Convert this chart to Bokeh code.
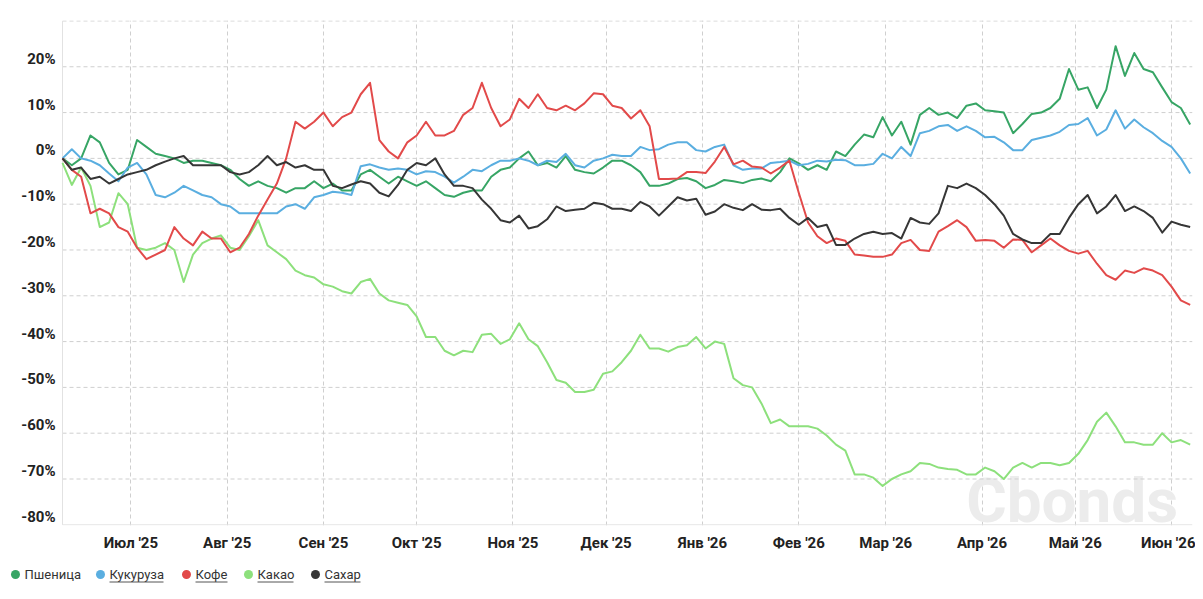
import pandas as pd
from bokeh.plotting import figure
from bokeh.models import Range1d, FixedTicker, Label
from bokeh.layouts import column
from bokeh.embed import file_html
from bokeh.resources import INLINE
from bokeh.core.properties import value

# one reading every 3 days, 9 Jun 2025 .. 7 Jun 2026, change in %
dates = pd.date_range("2025-06-09", periods=122, freq="3D")

wheat = [0, -1.5, 0, 5, 3.5, -1, -3.5, -2.5, 4, 2.5, 1,
         0.5, 0, -1, -0.5, -0.5, -1, -1.5, -2.5, -4.5, -6,
         -5, -6, -6.5, -7.5, -6.5, -6.5, -5, -6.5, -5.5, -7,
         -7, -3.5, -2.5, -4, -5.5, -4, -5, -6, -5, -6.5,
         -8, -8.4, -7.5, -7, -7, -4, -2.5, -2, 0, 1.5,
         -1.5, -1, -2, 0.5, -2.5, -3, -3.3, -2, -0.5, -0.5,
         -1.5, -3, -6, -6, -5.5, -4.5, -4.3, -5, -6.5, -5.8,
         -4.7, -5, -5.4, -4.7, -4.4, -5, -3, 0, -1.1, -2.5,
         -1.5, -2.5, 1.5, 0.5, 3, 5.2, 4.6, 9, 5, 8,
         3, 9.5, 11, 9.5, 10, 8.8, 11.5, 12, 10.5, 10.3,
         10, 5.5, 7.5, 9.7, 10, 11, 13, 19.5, 15, 15.5,
         11, 15, 24.5, 18, 23, 19.5, 18.8, 15.5, 12.3, 11, 7.4]

corn = [0, 2, 0, -0.5, -1.5, -3.3, -5, -2, -1, -3.5, -8,
        -8.5, -7.5, -6, -7, -8, -8.5, -10, -10.5, -12, -12,
        -12, -12, -12, -10.5, -10, -11, -8.5, -8, -7.3, -7.5,
        -8, -1.7, -1.3, -2, -2.5, -2.2, -2.5, -3.5, -2.8, -3,
        -4, -5.3, -4, -2.5, -2.8, -1.5, -0.5, -0.5, 0, -0.5,
        -1.5, -0.5, -0.8, 1, -1.5, -2, -0.5, 0, 0.8, 0.5,
        0.5, 2.5, 1.8, 2, 3, 3.5, 3.5, 1.8, 1.5, 2.5,
        3, -1.5, -2.5, -2.2, -2.2, -1, -0.8, -0.5, -1.5, -1.2,
        -0.5, -0.7, -0.3, -0.4, -1.5, -1.5, -1.2, 1, 0, 2.5,
        0.5, 5.5, 6, 7, 7.3, 6, 7, 6, 4.6, 4.7,
        3.5, 1.8, 1.8, 4, 4.5, 5, 5.8, 7.3, 7.5, 8.8,
        5, 6.3, 10.5, 6.5, 8.5, 6.8, 5.5, 3.8, 2.5, 0, -3.3]

coffee = [0, -2.5, -4, -12, -11, -12, -15, -16, -19.5, -22, -21,
          -20, -15, -17.5, -19, -16, -17.5, -17.5, -20.5, -19.5, -16.5,
          -12.5, -9, -5.5, 0, 8, 6.5, 8, 10, 7, 9,
          10, 14, 16.5, 4, 1.5, 0, 3.5, 5, 8, 5,
          5, 6, 9.5, 11, 16.5, 11, 7, 8.5, 13, 11,
          14, 11, 10.5, 11.5, 10.5, 12, 14.2, 14, 11.5, 11,
          8.7, 10.5, 7, -4.5, -4.5, -4.4, -3, -3, -3.2, -0.7,
          2.5, -1.3, -0.5, -1.8, -2, -3.3, -2, -0.5, -7.5, -14,
          -17, -18.5, -17.5, -18, -21, -21.2, -21.5, -21.5, -21, -18.5,
          -17.8, -20, -20.2, -16, -14.8, -13.5, -15, -18, -17.8, -18,
          -19.5, -17.7, -17.8, -20.5, -19, -17.5, -19, -20.2, -20.8, -20.2,
          -23, -25.5, -26.5, -24.5, -25, -24, -24.5, -25.5, -28, -31, -32]

cocoa = [-1, -5.8, -2, -6, -15, -14, -7.6, -10, -19.5, -20, -19.5,
         -18.5, -20, -27, -21, -18.5, -17.5, -16.8, -19.5, -20, -17,
         -13.5, -19, -20.5, -22, -24.5, -25.5, -26, -27.5, -28, -29,
         -29.5, -27, -26.3, -29.5, -31, -31.5, -32, -34.5, -39, -39,
         -42, -43, -42, -42.3, -38.5, -38.3, -40.5, -39.5, -36, -39.5,
         -41, -44.5, -48.4, -49, -51, -51, -50.5, -47, -46.5, -44.5,
         -42, -38.5, -41.5, -41.5, -42.2, -41.2, -40.8, -39, -41.5, -40,
         -40.5, -48, -49.5, -50, -53.5, -57.8, -57, -58.5, -58.5, -58.5,
         -59, -60.5, -62.5, -63.8, -69, -69, -69.7, -71.5, -70, -69,
         -68.3, -66.5, -66.7, -67.5, -67.8, -68, -69, -69, -67.5, -68.3,
         -70, -67.5, -66.5, -67.5, -66.5, -66.5, -67, -66.5, -64.5, -61.5,
         -57.5, -55.5, -58.5, -62, -62, -62.5, -62.5, -60, -62, -61.5, -62.5]

sugar = [0, -2.5, -2, -4.5, -4, -5.5, -4.5, -3.5, -3, -2.5, -1.5,
         -0.7, 0, 0.5, -1.5, -1.5, -1.5, -1.5, -3, -3.5, -3,
         -1.5, 0.5, -1.5, -0.8, -2, -1.5, -2.5, -2.5, -6, -6.5,
         -5.7, -5, -5.5, -7.5, -8.3, -5.8, -2.5, -1, -1.5, 0,
         -3.5, -6, -6, -6.5, -9, -11, -13.5, -14, -12.5, -15.3,
         -14.8, -13.3, -10.5, -11.5, -11.2, -11, -9.7, -10, -11, -11,
         -11.5, -9.5, -10.5, -12.5, -10.5, -8.5, -9.2, -8.8, -12.3, -11.6,
         -10, -10.8, -11.3, -10, -11.2, -11.3, -11, -13, -14.5, -13,
         -15, -14.5, -18.9, -18.9, -17.5, -16.5, -16, -16.5, -16.3, -17.5,
         -13, -14, -14.3, -12, -6, -6.5, -5.5, -6.5, -8, -10,
         -12.5, -16.5, -17.7, -18.5, -18.5, -16.5, -16.5, -13, -10, -8,
         -12, -10.5, -8, -11.5, -10.5, -11.5, -13, -16.2, -13.8, -14.5, -15]

names = ["Пшеница", "Кукуруза", "Кофе", "Какао", "Сахар"]
colors = ["#37a565", "#5aaee0", "#e24a4a", "#8de07c", "#363636"]
series = [wheat, corn, coffee, cocoa, sugar]

month_starts = pd.date_range("2025-07-01", periods=12, freq="MS")
month_labels = ["Июл '25", "Авг '25", "Сен '25", "Окт '25", "Ноя '25", "Дек '25",
                "Янв '26", "Фев '26", "Мар '26", "Апр '26", "Май '26", "Июн '26"]
y_ticks = list(range(-80, 31, 10))
y_labels = ["%d%%" % v for v in y_ticks[:-1]]

month_ms = [t.timestamp() * 1000 for t in month_starts]
x_end = pd.Timestamp("2026-06-07 18:00")
# frame starts at the page edge; the y labels sit left of the data start
x_start = dates[0] - pd.Timedelta(days=19.96)

p = figure(width=1195, height=563, x_axis_type="datetime",
           x_range=Range1d(x_start, x_end), y_range=Range1d(-80.15, 30.1),
           y_axis_location=None,
           output_backend="svg", toolbar_location=None,
           min_border_left=0, min_border_right=3, min_border_top=20, min_border_bottom=38)
p.outline_line_color = None
p.ygrid.visible = False

wm = Label(x=pd.Timestamp("2026-04-30"), y=-74.6, text="Cbonds", text_font="Roboto",
           text_font_size="62px", text_font_style="bold", text_color="#ececec",
           text_align="center", text_baseline="alphabetic", level="underlay")
p.add_layout(wm)

p.xaxis.ticker = FixedTicker(ticks=month_ms)
p.xaxis.major_label_overrides = dict(zip(month_ms, month_labels))
p.xaxis.axis_line_color = None
p.xaxis.major_tick_line_color = None
p.xaxis.minor_tick_line_color = None
p.xaxis.major_label_text_font = "Roboto"
p.xaxis.major_label_text_font_style = "bold"
p.xaxis.major_label_text_font_size = "15px"
p.xaxis.major_label_text_color = "#222222"
p.xaxis.major_label_standoff = 2

p.xgrid.grid_line_color = "#cfcfcf"
p.xgrid.grid_line_dash = "4 3"

# horizontal grid, left and bottom borders start where the data starts
n = len(y_ticks)
p.segment([dates[0]] * (n - 1), y_ticks[1:], [x_end] * (n - 1), y_ticks[1:],
          line_color="#cfcfcf", line_dash="4 3", line_width=1)
p.segment([dates[0], dates[0]], [-80, -80], [x_end, dates[0]], [-80, 30],
          line_color="#e2e2e2", line_width=1)

p.text([dates[0] - pd.Timedelta(hours=54)] * (n - 1), y_ticks[:-1], text=y_labels,
       text_font=value("Roboto"), text_font_style="bold", text_font_size="15px",
       text_color="#222222", text_align="right", text_baseline="bottom", y_offset=1)

for i in [3, 0, 1, 2, 4]:
    p.line(dates, series[i], line_color=colors[i], line_width=2, line_join="round")

# legend row, drawn in pixel units of its own small figure
leg = figure(width=1195, height=28, x_range=Range1d(0, 1192), y_range=Range1d(0, 28),
             output_backend="svg", toolbar_location=None,
             x_axis_location=None, y_axis_location=None,
             min_border_left=0, min_border_right=3, min_border_top=0, min_border_bottom=0)
leg.grid.visible = False
leg.outline_line_color = None

dot_x = [15, 100, 186, 248, 315]
text_w = [56, 54, 32, 36, 36]
leg.scatter(dot_x, [17] * 5, size=9, color=colors, line_color=None)
leg.text([x + 9 for x in dot_x], [17] * 5, text=names, text_font=value("Roboto"),
         text_font_size="13px", text_color="#333333", text_baseline="middle")
ux0 = [x + 9 for x in dot_x[1:]]
ux1 = [x + 9 + w for x, w in zip(dot_x[1:], text_w[1:])]
leg.segment(ux0, [9.5] * 4, ux1, [9.5] * 4, line_color="#555555", line_width=1)

layout = column(p, leg, spacing=0)
open("out.html", "w").write(file_html(layout, INLINE))
